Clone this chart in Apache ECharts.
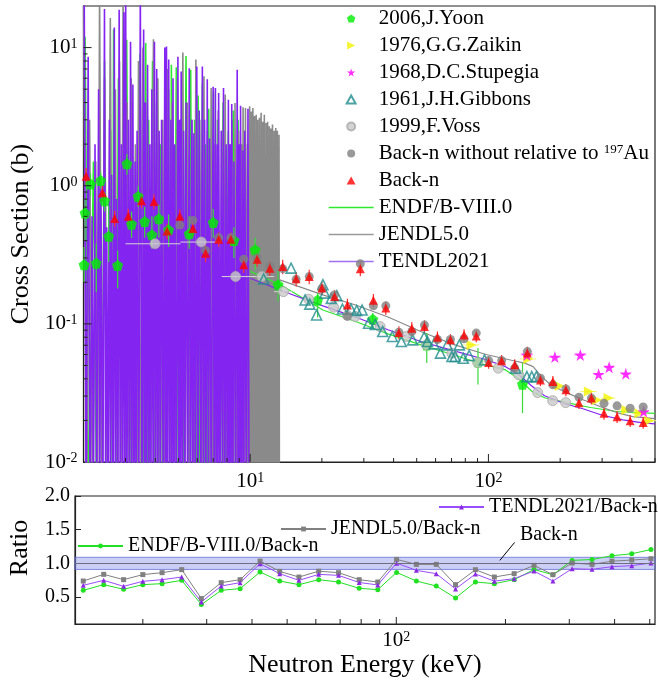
<!DOCTYPE html>
<html><head><meta charset="utf-8">
<script src="https://cdn.jsdelivr.net/npm/echarts@6/dist/echarts.min.js"></script>
<style>html,body{margin:0;padding:0;background:#fff}#c{width:658px;height:683px}</style>
</head><body><div id="c"></div>
<script>
const F = 'Liberation Serif';

// ---------- Evaluated libraries (cross section, b) ----------
const V = 0.004; // resonance valley floor (below the axis)
const endfRes = [
[2.03,12],[2.10,V],[2.20,1.5],[2.27,V],[2.33,4.0],[2.39,V],[2.45,8.0],[2.52,V],[2.60,2.5],[2.64,V],[2.673,13.5],[2.74,V],[2.80,6.0],[2.88,V],[2.96,10],[3.00,V],[3.034,11.4],[3.12,V],[3.20,3.0],[3.25,V],[3.30,1.5],[3.37,V],[3.45,9.0],[3.55,V],[3.646,10.8],[3.70,V],[3.75,3.0],[3.82,V],[3.894,8.0],[3.97,V],[4.05,4.0],[4.12,V],[4.20,2.0],[4.30,V],[4.40,6.0],[4.47,V],[4.55,5.0],[4.61,V],[4.672,7.5],[4.78,V],[4.90,7.2],[5.00,V],[5.10,3.0],[5.24,V],[5.383,8.7],[5.50,V],[5.63,6.9],[5.74,V],[5.85,3.0],[5.95,V],[6.05,4.5],[6.17,V],[6.30,5.5],[6.40,V],[6.50,2.0],[6.60,V],[6.70,3.6],[6.86,V],[7.02,4.8],[7.16,V],[7.30,3.0],[7.50,V],[7.70,4.0],[7.90,V],[8.10,2.5],[8.30,V],[8.50,3.5],[8.70,V],[8.90,3.0],[9.20,V],[9.50,2.5],[9.80,V]
];
const endfSmooth = [[10.0,0.24],[13.4,0.192],[20.2,0.126],[27.7,0.104],[37.9,0.0847],[52,0.0704],[71.2,0.0598],[91.7,0.0519],[118,0.0464],[134,0.040],[152,0.0325],[172,0.0292],[215,0.0268],[268,0.0248],[345,0.0232],[500,0.0225]];

const jendlRes = [
[2.00,25],[2.06,V],[2.12,3.0],[2.18,V],[2.25,1.5],[2.29,V],[2.335,25],[2.39,V],[2.45,6.0],[2.52,V],[2.59,16.4],[2.65,V],[2.72,5.0],[2.78,V],[2.83,8.0],[2.88,V],[2.93,25],[2.99,V],[3.05,4.0],[3.11,V],[3.17,6.0],[3.23,V],[3.30,2.0],[3.35,V],[3.40,8.0],[3.47,V],[3.55,10],[3.62,V],[3.70,4.0],[3.81,V],[3.93,11.5],[4.01,V],[4.10,6.0],[4.20,V],[4.30,3.0],[4.40,V],[4.50,7.0],[4.60,V],[4.70,4.0],[4.82,V],[4.95,6.0],[5.08,V],[5.22,9.2],[5.33,V],[5.45,4.0],[5.57,V],[5.70,3.0],[5.81,V],[5.92,8.2],[6.03,V],[6.15,3.0],[6.27,V],[6.40,6.2],[6.51,V],[6.62,2.5],[6.74,V],[6.86,5.1],[6.98,V],[7.10,2.0],[7.22,V],[7.35,3.5],[7.47,V],[7.60,2.5],[7.73,V],[7.86,4.57],[8.00,V],[8.15,2.0],[8.27,V],[8.40,3.0],[8.52,V],[8.64,3.97],[8.80,V],[8.95,2.5],[9.07,V],[9.20,2.0],[9.27,V],[9.34,3.7],[9.45,V],[9.56,3.66],[9.65,V],[9.75,2.0],[9.85,V],
[9.953,3.76],[9.99,V],[10.03,1.5],[10.07,V],[10.114,3.45],[10.15,V],[10.19,1.2],[10.23,V],[10.27,3.66],[10.31,V],[10.35,2.0],[10.39,V],[10.43,3.2],[10.47,V],[10.51,1.5],[10.55,V],[10.60,3.27],[10.64,V],[10.68,1.8],[10.72,V],[10.765,3.0],[10.81,V],[10.85,1.4],[10.89,V],[10.94,3.1],[10.98,V],[11.03,2.0],[11.07,V],[11.12,3.37],[11.16,V],[11.20,1.6],[11.24,V],[11.29,2.9],[11.33,V],[11.38,1.8],[11.42,V],[11.47,3.27],[11.51,V],[11.56,1.5],[11.61,V],[11.66,2.85],[11.70,V],[11.75,1.9],[11.79,V],[11.84,2.9],[11.88,V],[11.93,1.4],[11.98,V],[12.03,2.69],[12.07,V],[12.12,1.7],[12.17,V],[12.22,2.6],[12.26,V],[12.31,1.5],[12.36,V],[12.41,2.77],[12.46,V],[12.51,1.8],[12.56,V],[12.61,2.5],[12.66,V],[12.71,1.4],[12.76,V],[12.81,2.62],[12.86,V],[12.91,1.6],[12.96,V],[13.01,2.5],[13.06,V],[13.11,1.5],[13.16,V],[13.22,2.34],[13.27,V]
];
const jendlSmooth = [[13.3,0.208],[20.2,0.162],[27.7,0.137],[37.9,0.112],[52,0.088],[71.2,0.071],[97.7,0.060],[125,0.0545],[142,0.052],[154,0.049],[167,0.0415],[183,0.0361],[215,0.0315],[251,0.0281],[294,0.0252],[345,0.0228],[403,0.0213],[500,0.0206]];

const tendlRes = [
[2.013,25],[2.05,V],[2.091,8.6],[2.13,V],[2.171,0.6],[2.20,V],[2.234,2.0],[2.27,V],[2.313,5.0],[2.34,V],[2.364,1.0],[2.41,V],[2.448,19],[2.475,V],[2.502,0.5],[2.535,V],[2.567,3.0],[2.595,V],[2.623,1.2],[2.66,V],[2.692,14],[2.72,V],[2.751,0.8],[2.785,V],[2.821,18.8],[2.85,V],[2.884,2.0],[2.92,V],[2.953,18],[2.98,V],[3.004,25],[3.04,V],[3.082,3.0],[3.115,V],[3.149,11],[3.185,V],[3.221,5.4],[3.255,V],[3.292,1.5],[3.32,V],[3.355,2.5],[3.41,V],[3.461,25],[3.52,V],[3.574,13.5],[3.60,V],[3.629,4.0],[3.67,V],[3.712,7.5],[3.75,V],[3.794,2.0],[3.83,V],[3.867,5.0],[3.92,V],[3.967,11],[4.01,V],[4.054,7.0],[4.10,V],[4.151,2.5],[4.20,V],[4.250,3.0],[4.32,V],[4.385,10],[4.42,V],[4.456,10.2],[4.50,V],[4.553,8.2],[4.60,V],[4.650,3.0],[4.70,V],[4.747,6.0],[4.79,V],[4.829,2.0],[4.90,V],[4.977,8.6],[5.02,V],[5.062,3.0],[5.10,V],[5.135,6.7],[5.20,V],[5.257,2.5],[5.32,V],[5.383,4.0],[5.47,V],[5.554,7.1],[5.62,V],[5.697,3.0],[5.75,V],[5.807,2.4],[5.89,V],[5.973,7.3],[6.04,V],[6.115,3.5],[6.21,V],[6.303,7.3],[6.37,V],[6.442,3.0],[6.52,V],[6.609,5.9],[6.68,V],[6.755,2.2],[6.87,V],[6.996,5.2],[7.07,V],[7.149,5.1],[7.22,V],[7.285,2.0],[7.33,V],[7.376,4.7],[7.47,V],[7.566,2.5],[7.65,V],[7.732,5.1],[7.83,V],[7.932,2.0],[8.02,V],[8.106,4.2],[8.17,V],[8.238,2.0],[8.30,V],[8.372,3.9],[8.46,V],[8.556,1.5],[8.69,V],[8.827,6.9],[8.90,V],[8.970,2.0],[9.04,V],[9.116,3.8],[9.21,V],[9.316,1.8],[9.40,V],[9.494,2.5],[9.64,V],[9.795,3.6],[9.90,V]
];
const tendlSmooth = [[10.0,0.214],[14,0.17],[20.2,0.135],[27.7,0.112],[37.9,0.0906],[52,0.0745],[71.2,0.064],[97.8,0.055],[118,0.049],[134,0.043],[152,0.0355],[172,0.0302],[208,0.0265],[251,0.0242],[300,0.0218],[367,0.0202],[444,0.0192],[500,0.0189]];

// ---------- Measurements ----------
const backnE = [2.05,2.40,2.70,3.08,3.50,3.95,4.48,5.07,5.75,6.50,7.38,8.30,9.40,10.7,12.1,13.7,15.6,17.7,20.0,22.6,25.6,29.0,32.9,37.1,42.1,47.7,53.9,61.1,69.3,79.0,88.9,100.2,113.6,128.9,145.7,165.3,186.4,211.4,239.8,270.4,305.5,346.6,393.3,446.0];
const backnS = [1.17,0.89,0.58,0.60,0.78,0.77,0.47,0.60,0.49,0.325,0.41,0.41,0.268,0.294,0.253,0.26,0.212,0.220,0.182,0.158,0.137,0.251,0.148,0.130,0.0866,0.0931,0.0956,0.0801,0.0766,0.0832,0.0818,0.0525,0.0540,0.0505,0.0614,0.0393,0.0382,0.0333,0.0269,0.0290,0.0225,0.0213,0.0199,0.0193];
const backnErr = [0.15,0.14,0.13,0.13,0.12,0.12,0.13,0.12,0.12,0.14,0.12,0.12,0.13,0.12,0.12,0.12,0.12,0.12,0.11,0.11,0.11,0.12,0.11,0.11,0.11,0.11,0.11,0.10,0.10,0.10,0.10,0.10,0.10,0.10,0.11,0.10,0.10,0.10,0.10,0.10,0.10,0.10,0.10,0.10];
const backnWoE = [5.07,5.75,6.50,7.38,8.30,9.40,10.7,12.1,13.7,15.6,17.7,20.0,22.6,25.6,29.0,32.9,37.1,42.1,47.7,53.9,61.1,69.3,79.0,88.9,100.2,113.6,128.9,145.7,165.3,186.4,211.4,239.8,270.4,305.5,346.6,393.3,446.0];
const backnWoS = [0.519,0.561,0.34,0.42,0.42,0.294,0.30,0.26,0.251,0.21,0.22,0.18,0.162,0.114,0.272,0.135,0.135,0.087,0.088,0.098,0.077,0.077,0.078,0.0857,0.0542,0.0542,0.0478,0.063,0.0404,0.0362,0.0338,0.0294,0.029,0.0266,0.0255,0.0245,0.0250];

const yoonE  = [2.01,2.03,2.14,2.26,2.36,2.45,2.55,2.78,3.04,3.18,3.39,3.61,3.87,4.14,4.55,5.55,7.00,8.55,10.5,13.1,19.2,32.7,55.1,90.4,139];
const yoonS  = [0.268,0.634,1.03,0.275,1.09,0.778,0.43,0.265,1.44,0.527,0.837,0.551,0.441,0.577,0.48,0.449,0.542,0.402,0.344,0.192,0.149,0.108,0.0704,0.053,0.0366];
const yoonLo = [0.20,0.40,0.84,0.17,0.95,0.65,0.28,0.18,1.20,0.42,0.70,0.42,0.35,0.42,0.36,0.35,0.42,0.30,0.245,0.145,0.111,0.095,0.052,0.0364,0.0226];
const yoonHi = [0.36,0.80,1.23,0.38,1.25,0.90,0.72,0.34,1.70,0.65,1.00,0.70,0.60,0.73,0.62,0.60,0.68,0.50,0.42,0.24,0.167,0.12,0.086,0.0668,0.052];

const zaikinE = [84.9,147,199,264,286,319,379,430,473];
const zaikinS = [0.0704,0.0557,0.0355,0.0324,0.0281,0.029,0.0238,0.0225,0.0199];
const zaikinErr = [0.08,0.08,0.08,0.08,0.07,0.07,0.07,0.07,0.07];

const stupE = [145,190,243,290,321,377,448];
const stupS = [0.0596,0.0575,0.0596,0.0432,0.0486,0.0435,0.0232];
const stupErr = [0.06,0.06,0.06,0.05,0.05,0.05,0.05];

const gibbE = [11.4,14.85,17.0,17.8,19.0,20.2,20.6,21.9,23.1,24.4,26.5,28.0,29.5,31.4,33.5,36.0,39.5,43.1,48.1,53.7,55.5,59.1,62.9,67.1,70.3,72.5,75.5,78.4,83.0,96.2,130,145,152,159];
const gibbS = [0.211,0.253,0.149,0.139,0.116,0.192,0.167,0.153,0.160,0.128,0.128,0.125,0.126,0.101,0.099,0.088,0.081,0.0745,0.0766,0.080,0.0745,0.0716,0.0614,0.0704,0.058,0.058,0.0704,0.0564,0.059,0.0548,0.0478,0.0415,0.0415,0.0415];

const vossE  = [3.99,6.24,8.69,11.2,13.8,17.6,22.4,25.6,27.6,35.1,45.2,55.0,70.2,90.1,110,134,161,186,211];
const vossS  = [0.38,0.391,0.22,0.22,0.171,0.151,0.132,0.115,0.113,0.0955,0.081,0.0704,0.0614,0.0525,0.0478,0.0427,0.0318,0.0278,0.0269];
const vossLo = [3.0,5.1,7.6,10.0,12.6,16.6,21.2,24.4,26.5,33.5,43.2,52.5,67.0,86.0,105,128,154,178,202];
const vossHi = [5.1,7.6,10.0,12.6,15.0,18.6,23.6,26.8,28.8,36.8,47.2,57.5,73.4,94.2,115,140,168,194,220];

// ---------- Ratios to Back-n ----------
const ratioE = [13.7,15.6,17.7,20.0,22.6,25.6,29.0,32.9,37.1,42.1,47.7,53.9,61.1,69.3,79.0,88.9,100.2,113.6,128.9,145.7,165.3,186.4,211.4,239.8,270.4,305.5,346.6,393.3,446.0,503.9];
const endfRatio  = [0.600,0.684,0.615,0.684,0.699,0.748,0.388,0.600,0.625,0.871,0.738,0.684,0.758,0.723,0.630,0.610,0.866,0.738,0.664,0.486,0.723,0.699,0.758,0.909,0.832,1.044,1.057,1.113,1.143,1.205];
const jendlRatio = [0.738,0.837,0.758,0.833,0.862,0.907,0.477,0.714,0.758,1.034,0.881,0.797,0.884,0.862,0.758,0.723,1.059,0.985,0.985,0.684,0.906,0.797,0.847,0.970,0.832,1.005,0.985,1.032,1.049,1.069];
const tendlRatio = [0.674,0.748,0.659,0.733,0.758,0.797,0.427,0.664,0.714,0.995,0.847,0.748,0.837,0.822,0.716,0.680,1.003,0.896,0.847,0.620,0.842,0.736,0.773,0.886,0.738,0.921,0.911,0.951,0.966,1.005];
const bandCenter = 1.0, bandHalf = 0.09;
const arrowFrom = [212, 1.311], arrowTo = [193, 1.044];

// ---------- Axes / ticks ----------
const topX = [2, 500], topY = [0.01, 20], botX = [13, 517], botY = [0.1, 2.0];
const topXMinor = [2,3,4,5,6,7,8,9,20,30,40,50,60,70,80,90,200,300,400,500];
const topXMajor = [10,100];
const topYMinor = [0.02,0.03,0.04,0.05,0.06,0.07,0.08,0.09,0.2,0.3,0.4,0.5,0.6,0.7,0.8,0.9,2,3,4,5,6,7,8,9];
const topYMajor = [0.1,1,10];
const botXMinor = [20,30,40,50,60,70,80,90,200,300,400,500];
const botXMajor = [100];
const ratioTicks = [0.5,1.0,1.5,2.0];

// ---------- names ----------
const N = {
  yoon:'2006,J.Yoon', zaikin:'1976,G.G.Zaikin', stup:'1968,D.C.Stupegia', gibb:'1961,J.H.Gibbons',
  voss:'1999,F.Voss', wo:'Back-n without relative to 197Au', backn:'Back-n',
  endf:'ENDF/B-VIII.0', jendl:'JENDL5.0', tendl:'TENDL2021',
  rEndf:'ENDF/B-VIII.0/Back-n', rJendl:'JENDL5.0/Back-n', rTendl:'TENDL2021/Back-n'
};
const C = { green:'#2EE82E', gray:'#8A8A8A', purple:'#8424F0', red:'#FF0000', teal:'#1F8C8C',
  yellow:'#F2F200', magenta:'#FF00FF', voss:'#C9C9C9', wo:'#7F7F7F', rPurple:'#9A4CFF' };

const PENTAGON = 'path://M50 0L97.6 34.5L79.4 90.5L20.6 90.5L2.4 34.5Z';
const STAR = 'path://M50 0L61.8 35.3L97.6 35.3L68.7 56.9L79.4 90.5L50 69.7L20.6 90.5L31.3 56.9L2.4 35.3L38.2 35.3Z';
const RTRI = 'path://M0 0L100 50L0 100Z';
const UTRI = 'path://M50 0L100 90L0 90Z';

const zip = (a, b) => a.map((v, i) => [v, b[i]]);

function pow10Label(v) {
  const l = Math.log10(v), e = Math.round(l);
  if (Math.abs(l - e) > 1e-6) return '';
  return '10{sup|' + e + '}';
}
const supRich = { sup: { fontSize: 14, fontFamily: F, color: '#000', verticalAlign: 'top' } };

function vBars(name, data, color, w) {
  return { type:'custom', name, xAxisIndex:0, yAxisIndex:0, data, clip:true, silent:true, z:3,
    renderItem: (p, api) => {
      const a = api.coord([api.value(0), api.value(1)]), b = api.coord([api.value(0), api.value(2)]);
      return { type:'line', shape:{x1:a[0], y1:a[1], x2:b[0], y2:b[1]}, style:{stroke:color, lineWidth:w} };
    } };
}
function hBars(name, data, color, w) {
  return { type:'custom', name, xAxisIndex:0, yAxisIndex:0, data, clip:true, silent:true, z:3,
    renderItem: (p, api) => {
      const a = api.coord([api.value(0), api.value(1)]), b = api.coord([api.value(2), api.value(1)]);
      return { type:'line', shape:{x1:a[0], y1:a[1], x2:b[0], y2:b[1]}, style:{stroke:color, lineWidth:w} };
    } };
}
function xTicks(idx, vals, yBase, len) {
  return { type:'custom', xAxisIndex:idx, yAxisIndex:idx, silent:true, z:6,
    data: vals.map(v => [v, yBase]),
    renderItem: (p, api) => {
      const a = api.coord([api.value(0), api.value(1)]);
      return { type:'line', shape:{x1:a[0], y1:a[1], x2:a[0], y2:a[1]-len}, style:{stroke:'#222', lineWidth:1} };
    } };
}
function yTicks(idx, vals, xBase, len) {
  return { type:'custom', xAxisIndex:idx, yAxisIndex:idx, silent:true, z:6,
    data: vals.map(v => [xBase, v]),
    renderItem: (p, api) => {
      const a = api.coord([api.value(0), api.value(1)]);
      return { type:'line', shape:{x1:a[0], y1:a[1], x2:a[0]+len, y2:a[1]}, style:{stroke:'#222', lineWidth:1} };
    } };
}
function scatter(name, E, S, symbol, size, style, z) {
  return { type:'scatter', name, xAxisIndex:0, yAxisIndex:0, data: zip(E, S), symbol, symbolSize:size,
    itemStyle: style, z: z || 4, clip:true };
}
function libLine(name, data, color, width, z) {
  return { type:'line', name, xAxisIndex:0, yAxisIndex:0, data, symbol:'none', showSymbol:false,
    lineStyle:{color, width}, itemStyle:{color}, sampling:null, z:z, clip:true };
}
function ratioLine(name, vals, color, symbol, symColor) {
  return { type:'line', name, xAxisIndex:1, yAxisIndex:1, data: zip(ratioE, vals), symbol, symbolSize:5,
    lineStyle:{color, width:1}, itemStyle:{color: symColor || color}, z:4 };
}

const axisLineStyle = { show:true, lineStyle:{ color:'#222', width:1.2 } };
const labelBase = { fontFamily:F, fontSize:21, color:'#000' };

const legendText = { fontFamily:F, fontSize:21, color:'#000', lineHeight:21,
  rich: { sup: { fontSize:13, fontFamily:F, color:'#000', verticalAlign:'top' } } };
const legendText2 = { fontFamily:F, fontSize:20, color:'#000', lineHeight:20 };
const lineItem = (name, color) => ({ name, itemStyle:{ opacity:0 }, lineStyle:{ width:1.3, color } });

const option = {
  animation:false,
  backgroundColor:'#fff',
  grid: [
    { left:75, top:6, width:584, height:456, show:true, borderColor:'#222', borderWidth:1.2 },
    { left:75, top:496, width:584, height:128, show:true, borderColor:'#222', borderWidth:1.2 }
  ],
  xAxis: [
    { type:'log', gridIndex:0, min:topX[0], max:topX[1], axisLine:axisLineStyle, axisTick:{show:false},
      splitLine:{show:false}, minorTick:{show:false},
      axisLabel:Object.assign({}, labelBase, { formatter:pow10Label, rich:supRich, margin:9 }) },
    { type:'log', gridIndex:1, min:botX[0], max:botX[1], axisLine:axisLineStyle, axisTick:{show:false},
      splitLine:{show:false},
      axisLabel:Object.assign({}, labelBase, { formatter:pow10Label, rich:supRich, margin:6 }),
      name:'Neutron Energy (keV)', nameLocation:'middle', nameGap:26,
      nameTextStyle:{ fontFamily:F, fontSize:26, color:'#000' } }
  ],
  yAxis: [
    { type:'log', gridIndex:0, min:topY[0], max:topY[1], axisLine:axisLineStyle, axisTick:{show:false},
      splitLine:{show:false},
      axisLabel:Object.assign({}, labelBase, { formatter:pow10Label, rich:supRich, margin:6 }),
      name:'Cross Section (b)', nameLocation:'middle', nameGap:41,
      nameTextStyle:{ fontFamily:F, fontSize:26, color:'#000' } },
    { type:'value', gridIndex:1, min:botY[0], max:botY[1], axisLine:axisLineStyle,
      axisTick:{ show:true, inside:true, length:6, customValues:ratioTicks, lineStyle:{color:'#222'} },
      splitLine:{show:false},
      axisLabel:Object.assign({}, labelBase, { fontSize:20, margin:5, customValues:ratioTicks,
        formatter: v => v.toFixed(1) }) }
  ],
  legend: [
    { data:[N.yoon, N.zaikin, N.stup, N.gibb, N.voss, N.wo, N.backn,
            lineItem(N.endf, C.green), lineItem(N.jendl, '#9A9A9A'), lineItem(N.tendl, '#A070F0')],
      orient:'vertical', left:328, top:8, itemWidth:45, itemHeight:8, itemGap:6, selectedMode:false,
      symbolKeepAspect:true, textStyle:legendText, padding:0,
      formatter: name => name === N.wo ? 'Back-n without relative to {sup|197}Au' : name },
    { data:[N.rTendl], left:438, top:497, itemWidth:45, itemHeight:6, selectedMode:false, padding:0, textStyle:legendText2 },
    { data:[N.rJendl], left:280, top:519, itemWidth:45, itemHeight:6, selectedMode:false, padding:0, textStyle:legendText2 },
    { data:[N.rEndf], left:77, top:536, itemWidth:45, itemHeight:6, selectedMode:false, padding:0, textStyle:legendText2 }
  ],
  graphic: [
    { type:'text', x:20, y:548, rotation:Math.PI/2,
      style:{ text:'Ratio', font:'26px "Liberation Serif"', fill:'#000', align:'center', verticalAlign:'middle' } },
    { type:'text', x:520, y:535,
      style:{ text:'Back-n', font:'20px "Liberation Serif"', fill:'#000', align:'left', verticalAlign:'middle' } }
  ],
  series: [
    libLine(N.endf, endfRes, C.green, 1.6, 2),
    libLine(N.jendl, jendlRes, C.gray, 1.6, 2),
    libLine(N.tendl, tendlRes, C.purple, 1.6, 2),
    libLine(N.endf, endfSmooth, C.green, 1.2, 2),
    libLine(N.jendl, jendlSmooth, C.gray, 1.2, 2),
    libLine(N.tendl, tendlSmooth, C.purple, 1.2, 2),

    vBars('yoonErr', yoonE.map((e,i)=>[e, yoonLo[i], yoonHi[i]]), '#3BD83B', 1.2),
    vBars('backnErr', backnE.map((e,i)=>[e, backnS[i]*(1-backnErr[i]), backnS[i]*(1+backnErr[i])]), '#FF3030', 1.2),
    hBars('vossErr', vossE.map((e,i)=>[vossLo[i], vossS[i], vossHi[i]]), '#D4D4D4', 1),
    hBars('zaikinErr', zaikinE.map((e,i)=>[e*(1-zaikinErr[i]), zaikinS[i], e*(1+zaikinErr[i])]), '#F4F47A', 1),
    hBars('stupErr', stupE.map((e,i)=>[e*(1-stupErr[i]), stupS[i], e*(1+stupErr[i])]), '#FF8CFF', 1),

    scatter(N.yoon, yoonE, yoonS, PENTAGON, 11, { color:'#00EE00' }, 4),
    scatter(N.voss, vossE, vossS, 'circle', 10, { color:C.voss, borderColor:'#A9A9A9', borderWidth:1 }, 5),
    scatter(N.gibb, gibbE, gibbS, UTRI, 10, { color:'rgba(255,255,255,0)', borderColor:C.teal, borderWidth:1.6 }, 5),
    scatter(N.zaikin, zaikinE, zaikinS, RTRI, 10, { color:C.yellow }, 5),
    scatter(N.stup, stupE, stupS, STAR, 12, { color:C.magenta }, 5),
    scatter(N.wo, backnWoE, backnWoS, 'circle', 9, { color:C.wo }, 6),
    scatter(N.backn, backnE, backnS, UTRI, 9, { color:C.red }, 7),

    xTicks(0, topXMinor, topY[0], 4), xTicks(0, topXMajor, topY[0], 8),
    yTicks(0, topYMinor, topX[0], 4), yTicks(0, topYMajor, topX[0], 8),

    { type:'line', name:'band', xAxisIndex:1, yAxisIndex:1, data:[], silent:true, z:1,
      markArea:{ silent:true, itemStyle:{ color:'rgba(120,130,230,0.38)', borderColor:'rgba(95,105,215,0.75)', borderWidth:1 },
        data:[[{ yAxis: bandCenter - bandHalf }, { yAxis: bandCenter + bandHalf }]] },
      markLine:{ silent:true, symbol:'none', label:{show:false}, lineStyle:{ color:'#6E6E80', width:1, type:'solid' },
        data:[{ yAxis: bandCenter }] } },
    { type:'line', name:'arrow', xAxisIndex:1, yAxisIndex:1, data:[], silent:true, z:6,
      markLine:{ silent:true, symbol:['none','arrow'], symbolSize:[0,8], label:{show:false},
        lineStyle:{ color:'#000', width:1, type:'solid' },
        data:[[{ coord: arrowFrom }, { coord: arrowTo }]] } },

    ratioLine(N.rEndf, endfRatio, '#22E022', 'circle'),
    ratioLine(N.rJendl, jendlRatio, '#808080', 'rect'),
    ratioLine(N.rTendl, tendlRatio, C.rPurple, 'triangle', '#8A2BE2'),

    xTicks(1, botXMinor, botY[0], 5), xTicks(1, botXMajor, botY[0], 7)
  ]
};

const chart = echarts.init(document.getElementById('c'), null, { renderer:'canvas' });
chart.setOption(option);
</script>
</body></html>
